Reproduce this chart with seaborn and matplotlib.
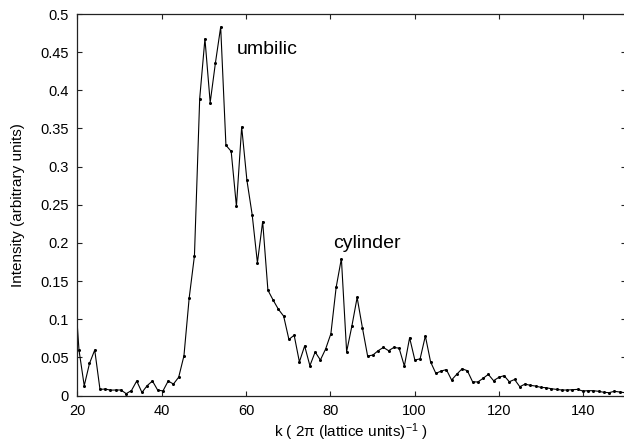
import numpy as np
import pandas as pd
import matplotlib
matplotlib.use("Agg")
import matplotlib.pyplot as plt
from matplotlib.ticker import FuncFormatter, MultipleLocator
import seaborn as sns

# k grid: evenly spaced, first point lies just left of the visible range (clipped)
k_start = 19.155
k_step = 1.2445

# intensity, one value per k sample
intensity = [
    0.16,
    0.0596, 0.0128, 0.042, 0.0596, 0.008, 0.0085, 0.007, 0.0072, 0.0072, 0.0024,
    0.0065, 0.019, 0.004, 0.013, 0.019, 0.007, 0.006, 0.019, 0.015, 0.024,
    0.052, 0.128, 0.183, 0.389, 0.4675, 0.384, 0.436, 0.483, 0.328, 0.320,
    0.248, 0.352, 0.282, 0.237, 0.174, 0.228, 0.138, 0.125, 0.113, 0.104,
    0.0735, 0.079, 0.044, 0.065, 0.039, 0.057, 0.0465, 0.061, 0.081, 0.1416,
    0.1795, 0.0574, 0.091, 0.1285, 0.089, 0.0517, 0.053, 0.0587, 0.063, 0.0587,
    0.063, 0.062, 0.0386, 0.0757, 0.0465, 0.048, 0.078, 0.044, 0.029, 0.032,
    0.034, 0.0203, 0.028, 0.035, 0.0325, 0.018, 0.0177, 0.0225, 0.0277, 0.0194,
    0.0238, 0.026, 0.018, 0.021, 0.0115, 0.015, 0.0133, 0.0124, 0.0107, 0.0102,
    0.0089, 0.008, 0.0072, 0.0072, 0.0076, 0.008, 0.0059, 0.0063, 0.0063, 0.0055,
    0.0042, 0.0037, 0.0055, 0.0046, 0.0037,
]

x_ticks = [20, 40, 60, 80, 100, 120, 140]
peak_labels = ["umbilic", "cylinder"]
peak_label_pos = [(57.75, 0.448), (80.6, 0.1927)]

k = k_start + k_step * np.arange(len(intensity))
df = pd.DataFrame({"k": k, "intensity": intensity})

sns.set_style("ticks")
plt.rcParams["font.family"] = ["Liberation Sans", "DejaVu Sans"]
plt.rcParams["mathtext.fontset"] = "custom"
plt.rcParams["mathtext.rm"] = "Liberation Sans"
plt.rcParams["mathtext.it"] = "Liberation Sans:italic"
plt.rcParams["text.color"] = "black"
plt.rcParams["axes.labelcolor"] = "black"
plt.rcParams["xtick.color"] = "black"
plt.rcParams["ytick.color"] = "black"

fig = plt.figure(figsize=(6.24, 4.45), dpi=100)
ax = fig.add_axes([77.3 / 624, 49.5 / 445, 548.2 / 624, 381.5 / 445])

sns.lineplot(data=df, x="k", y="intensity", ax=ax, color="black", linewidth=0.8,
             marker="o", markersize=2.2, markeredgewidth=0, sort=False, estimator=None)

ax.set_xlim(20, 150)
ax.set_ylim(0, 0.5)
ax.set_xticks(x_ticks)
ax.yaxis.set_major_locator(MultipleLocator(0.05))
ax.yaxis.set_major_formatter(FuncFormatter(lambda v, p: "%g" % round(v, 3)))

ax.tick_params(direction="in", top=True, right=True, length=3.5, width=0.8,
               labelsize=10.5, pad=6, color="#222222", labelcolor="black")
for s in ax.spines.values():
    s.set_linewidth(0.9)
    s.set_color("#222222")

ax.set_xlabel(r"k ( 2π (lattice units)$^{-1}$ )", fontsize=11)
ax.set_ylabel("Intensity (arbitrary units)", fontsize=11)
ax.xaxis.set_label_coords(0.5, -0.069)
ax.yaxis.set_label_coords(-0.0954, 0.5)

for txt, (tx, ty) in zip(peak_labels, peak_label_pos):
    ax.text(tx, ty, txt, fontsize=14, ha="left", va="baseline", color="black")

fig.savefig("out.png", dpi=100)
